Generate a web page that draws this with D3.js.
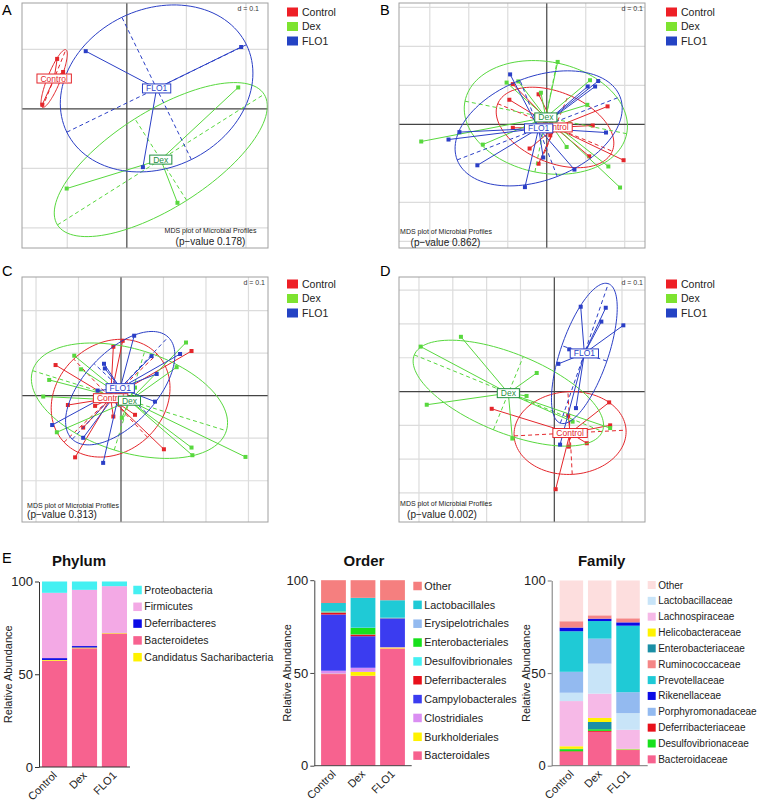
<!DOCTYPE html>
<html><head><meta charset="utf-8">
<script src="https://cdn.jsdelivr.net/npm/d3@7"></script>
<style>
body{margin:0;background:#fff}
svg{display:block;font-family:"Liberation Sans",Arial,Helvetica,sans-serif}
</style>
</head><body>
<svg id="chart" width="757" height="802"></svg>
<script>
// ---------------- DATA ----------------
const groups = ["Control","Dex","FLO1"];
const pValues = ["0.178","0.862","0.313","0.002"];
const panelLetters = ["A","B","C","D"];

// MDS coordinates (axis units), panel A
const mdsA_Control = [[-0.117,0.084],[-0.107,0.062],[-0.142,0.007]];
const mdsA_Dex = [[0.187,0.036],[-0.101,-0.134],[0.085,-0.158]];
const mdsA_FLO1 = [[-0.069,0.097],[0.192,0.104],[0.027,-0.098]];
// panel B
const mdsB_Control = [[-0.087,0.103],[-0.021,0.077],[-0.096,0.063],[0.156,0.046],[0.118,-0.003],[-0.087,-0.009],[0.197,-0.092],[0.109,-0.082],[-0.044,-0.062],[-0.021,-0.101],[0.009,-0.028]];
const mdsB_Dex = [[-0.322,-0.044],[-0.164,-0.052],[-0.103,0.107],[-0.073,0.110],[0.028,0.160],[-0.015,0.081],[0.111,0.113],[0.104,0.050],[0.051,-0.058],[0.158,-0.108],[0.188,-0.162],[0.009,0.015]];
const mdsB_FLO1 = [[-0.094,0.128],[0.105,0.097],[0.124,0.097],[0.132,0.111],[-0.224,-0.020],[-0.252,-0.039],[-0.178,-0.105],[-0.056,-0.161],[0.071,-0.116],[0.152,-0.021],[-0.009,-0.085]];
// panel C
const mdsC_Control = [[0.004,0.129],[-0.018,0.115],[0.166,0.105],[-0.154,0.072],[-0.125,-0.022],[-0.061,-0.024],[-0.018,-0.049],[-0.089,-0.075],[-0.108,-0.145],[0.033,-0.045],[0.101,-0.126]];
const mdsC_Dex = [[-0.110,0.094],[-0.094,0.062],[-0.169,0.037],[-0.183,-0.002],[-0.151,-0.086],[0.153,0.125],[0.131,0.067],[0.033,0.019],[0.002,-0.052],[0.166,-0.122],[0.168,-0.140],[0.293,-0.144]];
const mdsC_FLO1 = [[0.031,0.141],[-0.040,0.075],[-0.038,0.064],[0.072,0.093],[0.139,0.098],[0.084,0.051],[-0.055,0.012],[0.080,-0.014],[-0.162,-0.069],[-0.089,-0.099],[-0.042,-0.158]];
// panel D
const mdsD_Control = [[-0.185,-0.051],[0.162,-0.032],[0.165,-0.100],[0.096,-0.153],[0.043,-0.163],[0.004,-0.289],[0.041,-0.071]];
const mdsD_Dex = [[-0.395,0.133],[-0.276,0.162],[-0.052,0.055],[-0.377,-0.039],[-0.082,-0.013],[-0.124,-0.139],[0.054,-0.089],[0.165,-0.108]];
const mdsD_FLO1 = [[0.078,0.251],[0.152,0.248],[0.139,0.207],[0.204,0.196],[0.044,0.125],[0.012,0.082],[0.064,-0.049],[0.017,-0.157]];

// Relative abundance (%), panel E
const barGroups = ["Control","Dex","FLO1"];
const yTicks = [0,50,100];

const phylumTaxa = ["Proteobacteria","Firmicutes","Deferribacteres","Bacteroidetes","Candidatus Sacharibacteria"];
const phylumStack = ["Bacteroidetes","Candidatus Sacharibacteria","Deferribacteres","Firmicutes","Proteobacteria"];
const phylumControl = [6.1,35.2,1.0,57.3,0.4];
const phylumDex = [4.5,30.3,0.8,64.0,0.4];
const phylumFLO1 = [2.5,25.1,0.1,72.0,0.3];

const orderTaxa = ["Other","Lactobacillales","Erysipelotrichales","Enterobacteriales","Desulfovibrionales","Deferribacterales","Campylobacterales","Clostridiales","Burkholderiales","Bacteroidales"];
const orderStack = orderTaxa.slice().reverse();
const orderControl = [12.3,4.5,0.1,0.3,0.2,1.1,30.3,1.6,0.2,49.4];
const orderDex = [9.5,16.1,0.1,3.5,0.1,0.9,17.0,2.2,2.1,48.5];
const orderFLO1 = [10.8,9.4,0.1,0.1,0.1,0.1,15.5,0.2,0.5,63.2];

const familyTaxa = ["Other","Lactobacillaceae","Lachnospiraceae","Helicobacteraceae","Enterobacteriaceae","Ruminococcaceae","Prevotellaceae","Rikenellaceae","Porphyromonadaceae","Deferribacteriaceae","Desulfovibrionaceae","Bacteroidaceae"];
const familyStack = ["Bacteroidaceae","Deferribacteriaceae","Desulfovibrionaceae","Enterobacteriaceae","Helicobacteraceae","Lachnospiraceae","Lactobacillaceae","Porphyromonadaceae","Prevotellaceae","Rikenellaceae","Ruminococcaceae","Other"];
const familyControl = [22.0,4.5,24.4,1.4,0.2,3.4,21.9,2.0,11.3,0.3,1.1,7.5];
const familyDex = [18.8,16.2,13.1,2.2,3.9,1.8,9.5,1.3,13.5,0.5,0.9,18.3];
const familyFLO1 = [20.4,9.0,10.3,0.3,0.2,2.2,35.9,1.8,11.3,0.1,0.1,8.4];

// ---------------- STYLE ----------------
const svg = d3.select("#chart");
const lineColor = {Control:"#e4262b", Dex:"#58d83e", FLO1:"#2b3fc6"};
const labelColor = {Control:"#e4262b", Dex:"#1f8f3f", FLO1:"#2b3fc6"};
const legendColor = {Control:"#ee1f26", Dex:"#7de32f", FLO1:"#2443c4"};

const phylumColors = {"Proteobacteria":"#44f0f2","Firmicutes":"#f3a9e5","Deferribacteres":"#0b0be6","Bacteroidetes":"#f7628f","Candidatus Sacharibacteria":"#fff200"};
const orderColors = {"Other":"#f57f7f","Lactobacillales":"#1fcad6","Erysipelotrichales":"#93baf0","Enterobacteriales":"#17e01c","Desulfovibrionales":"#44f0f2","Deferribacterales":"#e8101a","Campylobacterales":"#3b3cf0","Clostridiales":"#da8ef2","Burkholderiales":"#fff200","Bacteroidales":"#f7628f"};
const familyColors = {"Other":"#fddede","Lactobacillaceae":"#c8e4f8","Lachnospiraceae":"#f6b9e7","Helicobacteraceae":"#fff200","Enterobacteriaceae":"#1a8fa6","Ruminococcaceae":"#f58686","Prevotellaceae":"#1fcad6","Rikenellaceae":"#0b0be6","Porphyromonadaceae":"#93baf0","Deferribacteriaceae":"#e8101a","Desulfovibrionaceae":"#17e01c","Bacteroidaceae":"#f7628f"};

// ---------------- MDS PANELS ----------------
const panels = [
  {data:{Control:mdsA_Control,Dex:mdsA_Dex,FLO1:mdsA_FLO1}, frame:[22,3,268,248], xd:[-0.176,0.237], yd:[-0.234,0.178], dEnd:259, letter:[2,15], mds:[210.5,232.5], pv:[210.5,244.5], legend:[287,12]},
  {data:{Control:mdsB_Control,Dex:mdsB_Dex,FLO1:mdsB_FLO1}, frame:[399,3,645,248], xd:[-0.379,0.252], yd:[-0.317,0.311], dEnd:643, letter:[380,15], mds:[446,234], pv:[445.5,246], legend:[666,12]},
  {data:{Control:mdsC_Control,Dex:mdsC_Dex,FLO1:mdsC_FLO1}, frame:[22,277,268,522], xd:[-0.233,0.346], yd:[-0.297,0.279], dEnd:265, letter:[2,276], mds:[73,507.5], pv:[62,517.5], legend:[287,284]},
  {data:{Control:mdsD_Control,Dex:mdsD_Dex,FLO1:mdsD_FLO1}, frame:[399,277,645,522], xd:[-0.459,0.268], yd:[-0.386,0.339], dEnd:643, letter:[380,276], mds:[446,506], pv:[442,517.5], legend:[666,284]}
];

function ellipseOf(pts){
  const n = pts.length;
  const mx = d3.mean(pts,d=>d[0]), my = d3.mean(pts,d=>d[1]);
  let vx=0, vy=0, cxy=0;
  pts.forEach(([a,b])=>{vx+=(a-mx)**2; vy+=(b-my)**2; cxy+=(a-mx)*(b-my);});
  vx/=n; vy/=n; cxy/=n;
  const tr=(vx+vy)/2, df=Math.sqrt(((vx-vy)/2)**2+cxy**2);
  const l1=tr+df, l2=Math.max(tr-df,0);
  const th=0.5*Math.atan2(2*cxy, vx-vy);
  return {mx,my,a:1.5*Math.sqrt(l1),b:1.5*Math.sqrt(l2),th};
}

panels.forEach((P,pi)=>{
  const [fx0,fy0,fx1,fy1] = P.frame;
  const x = d3.scaleLinear().domain(P.xd).range([fx0,fx1]);
  const y = d3.scaleLinear().domain(P.yd).range([fy1,fy0]);
  const line = d3.line().x(d=>x(d[0])).y(d=>y(d[1]));
  const g = svg.append("g");
  const cid = "clip"+pi;
  g.append("clipPath").attr("id",cid).append("rect")
    .attr("x",fx0).attr("y",fy0).attr("width",fx1-fx0).attr("height",fy1-fy0);
  const inner = g.append("g").attr("clip-path",`url(#${cid})`);
  // grid
  const gxs = d3.range(Math.ceil(P.xd[0]*10), Math.floor(P.xd[1]*10)+1).filter(k=>k!==0).map(k=>k/10);
  const gys = d3.range(Math.ceil(P.yd[0]*10), Math.floor(P.yd[1]*10)+1).filter(k=>k!==0).map(k=>k/10);
  inner.selectAll(".gx").data(gxs).join("line")
    .attr("x1",d=>x(d)).attr("x2",d=>x(d)).attr("y1",fy0).attr("y2",fy1)
    .attr("stroke","#dcdcdc").attr("stroke-width",1.2);
  inner.selectAll(".gy").data(gys).join("line")
    .attr("y1",d=>y(d)).attr("y2",d=>y(d)).attr("x1",fx0).attr("x2",fx1)
    .attr("stroke","#dcdcdc").attr("stroke-width",1.2);
  inner.append("line").attr("x1",x(0)).attr("x2",x(0)).attr("y1",fy0).attr("y2",fy1).attr("stroke","#444").attr("stroke-width",1.2);
  inner.append("line").attr("y1",y(0)).attr("y2",y(0)).attr("x1",fx0).attr("x2",fx1).attr("stroke","#444").attr("stroke-width",1.2);

  const ells = {};
  groups.forEach(gr=>{
    const pts = P.data[gr];
    const e = ellipseOf(pts); ells[gr]=e;
    const c = lineColor[gr];
    const poly = d3.range(0,121).map(i=>{
      const t = i/120*2*Math.PI;
      return [e.mx + e.a*Math.cos(t)*Math.cos(e.th) - e.b*Math.sin(t)*Math.sin(e.th),
              e.my + e.a*Math.cos(t)*Math.sin(e.th) + e.b*Math.sin(t)*Math.cos(e.th)];
    });
    inner.append("path").attr("d",line(poly)).attr("fill","none").attr("stroke",c).attr("stroke-width",1);
    const ax1 = [[e.mx-e.a*Math.cos(e.th), e.my-e.a*Math.sin(e.th)],[e.mx+e.a*Math.cos(e.th), e.my+e.a*Math.sin(e.th)]];
    const ax2 = [[e.mx+e.b*Math.sin(e.th), e.my-e.b*Math.cos(e.th)],[e.mx-e.b*Math.sin(e.th), e.my+e.b*Math.cos(e.th)]];
    [ax1,ax2].forEach(a=>inner.append("path").attr("d",line(a)).attr("fill","none")
      .attr("stroke",c).attr("stroke-width",1).attr("stroke-dasharray","4,3"));
    inner.selectAll(null).data(pts).join("line")
      .attr("x1",d=>x(d[0])).attr("y1",d=>y(d[1])).attr("x2",x(e.mx)).attr("y2",y(e.my))
      .attr("stroke",c).attr("stroke-width",1);
    inner.selectAll(null).data(pts).join("rect")
      .attr("x",d=>x(d[0])-2).attr("y",d=>y(d[1])-2).attr("width",4).attr("height",4).attr("fill",c);
  });
  groups.forEach(gr=>{
    const e = ells[gr];
    const lg = inner.append("g").attr("transform",`translate(${x(e.mx)},${y(e.my)})`);
    const r = lg.append("rect");
    const t = lg.append("text").text(gr).attr("text-anchor","middle").attr("dy","0.35em")
      .attr("font-size",8.5).attr("fill",labelColor[gr]);
    const w = t.node().getComputedTextLength()+7;
    r.attr("x",-w/2).attr("y",-4.5).attr("width",w).attr("height",9)
      .attr("fill","#fff").attr("stroke",labelColor[gr]).attr("stroke-width",1);
  });
  // frame
  g.append("rect").attr("x",fx0).attr("y",fy0).attr("width",fx1-fx0).attr("height",fy1-fy0)
    .attr("fill","none").attr("stroke","#a0a0a0").attr("stroke-width",1);
  g.append("text").attr("x",P.dEnd).attr("y",fy0+8).attr("text-anchor","end")
    .attr("font-size",7).attr("fill","#333").text("d = 0.1");
  g.append("text").attr("x",P.mds[0]).attr("y",P.mds[1]).attr("text-anchor","middle")
    .attr("font-size",7).attr("fill","#222").text("MDS plot of Microbial Profiles");
  g.append("text").attr("x",P.pv[0]).attr("y",P.pv[1]).attr("text-anchor","middle")
    .attr("font-size",10).attr("fill","#222").text(`(p\u2212value ${pValues[pi]})`);
  g.append("text").attr("x",P.letter[0]).attr("y",P.letter[1]).attr("font-size",14.5).attr("fill","#000").text(panelLetters[pi]);
  // legend
  const leg = g.append("g");
  groups.forEach((gr,i)=>{
    const yy = P.legend[1] + i*14.5;
    leg.append("rect").attr("x",P.legend[0]).attr("y",yy-4.5).attr("width",11).attr("height",9).attr("fill",legendColor[gr]);
    leg.append("text").attr("x",P.legend[0]+15).attr("y",yy).attr("dy","0.35em").attr("font-size",10.5).attr("fill","#222").text(gr);
  });
});

// ---------------- STACKED BARS ----------------
svg.append("text").attr("x",2).attr("y",563).attr("font-size",14.5).attr("fill","#000").text("E");

function drawStack(cfg){
  const rows = [cfg.vControl, cfg.vDex, cfg.vFLO1];
  const data = barGroups.map((gname,i)=>{
    const o = {group:gname};
    cfg.taxa.forEach((t,j)=>o[t]=rows[i][j]);
    return o;
  });
  const series = d3.stack().keys(cfg.stack)(data);
  const x = d3.scaleBand().domain(barGroups).range(cfg.xr).paddingInner(cfg.pin).paddingOuter(cfg.pout);
  const y = d3.scaleLinear().domain([0,100]).range(cfg.yr);
  const g = svg.append("g");
  g.selectAll(".s").data(series).join("g").attr("fill",d=>cfg.colors[d.key])
    .selectAll("rect").data(d=>d).join("rect")
    .attr("x",d=>x(d.data.group)).attr("width",x.bandwidth())
    .attr("y",d=>y(d[1])).attr("height",d=>Math.max(0,y(d[0])-y(d[1])));
  // y axis
  const ya = g.append("g").attr("transform",`translate(${cfg.xr[0]},0)`)
    .call(d3.axisLeft(y).tickValues(yTicks).tickSize(4).tickPadding(2).tickSizeOuter(0));
  ya.selectAll("text").attr("font-size",13).attr("fill","#222").style("font-family",'"Liberation Sans",Arial,sans-serif');
  ya.selectAll("line,path").attr("stroke",cfg.axisColor);
  // x axis line
  g.append("line").attr("x1",cfg.xr[0]).attr("x2",cfg.xr[1]).attr("y1",cfg.yr[0]).attr("y2",cfg.yr[0]).attr("stroke",cfg.axisColor);
  g.selectAll(".xl").data(barGroups).join("text")
    .attr("transform",d=>`translate(${x(d)+x.bandwidth()/2+3},${cfg.yr[0]+9}) rotate(-45)`)
    .attr("text-anchor","end").attr("font-size",11).attr("fill","#222").text(d=>d);
  // titles
  g.append("text").attr("x",cfg.titleX).attr("y",566).attr("text-anchor","middle")
    .attr("font-size",15).attr("font-weight","bold").attr("fill","#111").text(cfg.title);
  g.append("text").attr("transform",`translate(${cfg.ylabX},${(cfg.yr[0]+cfg.yr[1])/2}) rotate(-90)`)
    .attr("text-anchor","middle").attr("font-size",11).attr("fill","#222").text("Relative Abundance");
  // legend
  cfg.taxa.forEach((t,i)=>{
    const yy = cfg.legY + i*cfg.legStep;
    g.append("rect").attr("x",cfg.legX).attr("y",yy-cfg.sq/2).attr("width",cfg.sq).attr("height",cfg.sq).attr("fill",cfg.colors[t]);
    g.append("text").attr("x",cfg.legX+cfg.sq+2.5).attr("y",yy).attr("dy","0.35em")
      .attr("font-size",cfg.legFont).attr("fill","#222").text(t);
  });
}

drawStack({taxa:phylumTaxa, stack:phylumStack, vControl:phylumControl, vDex:phylumDex, vFLO1:phylumFLO1,
  colors:phylumColors, xr:[39,130], yr:[767,581.5], pin:0.16, pout:0.1, title:"Phylum", titleX:79, ylabX:12,
  legX:133.3, legY:590, legStep:16.8, sq:8.5, legFont:10.5, axisColor:"#333"});
drawStack({taxa:orderTaxa, stack:orderStack, vControl:orderControl, vDex:orderDex, vFLO1:orderFLO1,
  colors:orderColors, xr:[314.3,411.7], yr:[765.7,580.2], pin:0.16, pout:0.23, title:"Order", titleX:364, ylabX:291,
  legX:413.3, legY:586, legStep:18.85, sq:8.5, legFont:10.8, axisColor:"#444"});
drawStack({taxa:familyTaxa, stack:familyStack, vControl:familyControl, vDex:familyDex, vFLO1:familyFLO1,
  colors:familyColors, xr:[551.7,647.7], yr:[765.7,580.5], pin:0.17, pout:0.28, title:"Family", titleX:601.7, ylabX:530,
  legX:647.7, legY:585, legStep:15.85, sq:8, legFont:10, axisColor:"#777"});
</script>
</body></html>
